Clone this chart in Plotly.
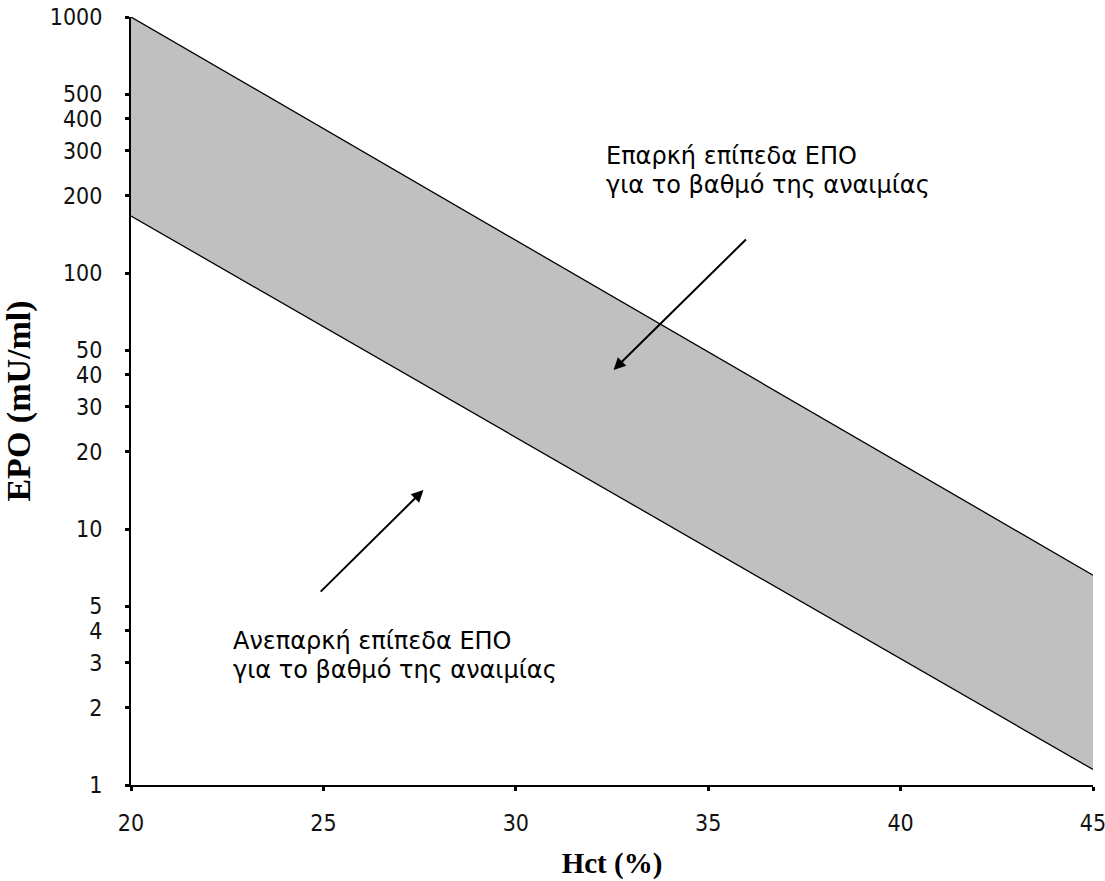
import numpy as np
import plotly.graph_objects as go

# Data
hct = [20, 45]
epo_upper = [1000, 6.6]
epo_lower = [167, 1.15]
x_ticks = [20, 25, 30, 35, 40, 45]
y_ticks = [1, 2, 3, 4, 5, 10, 20, 30, 40, 50, 100, 200, 300, 400, 500, 1000]

adequate_lines = ["Επαρκή επίπεδα ΕΠΟ", "για το βαθμό της αναιμίας"]
inadequate_lines = ["Ανεπαρκή επίπεδα ΕΠΟ", "για το βαθμό της αναιμίας"]
# annotation anchor points (data units)
adequate_text_pos = (32.3, 330)
adequate_arrow_tail = (36.02, 137)
adequate_arrow_head = (32.54, 41.8)
inadequate_text_pos = (22.6, 4.2)
inadequate_arrow_tail = (24.89, 5.62)
inadequate_arrow_head = (27.6, 14.2)

fig = go.Figure()
fig.add_trace(go.Scatter(x=hct, y=epo_lower, mode="lines",
                         line=dict(color="black", width=1.3), showlegend=False))
fig.add_trace(go.Scatter(x=hct, y=epo_upper, mode="lines", fill="tonexty",
                         fillcolor="#C0C0C0",
                         line=dict(color="black", width=1.3), showlegend=False))

L = np.log10
text_font = dict(family="DejaVu Sans", size=24, color="black")
for pos, lines in [(adequate_text_pos, adequate_lines), (inadequate_text_pos, inadequate_lines)]:
    for i, line in enumerate(lines):
        fig.add_annotation(x=pos[0], y=L(pos[1]), text=line, showarrow=False,
                           xanchor="left", yanchor="top", align="left",
                           yshift=-29 * i, font=text_font)
for tail, head in [(adequate_arrow_tail, adequate_arrow_head),
                   (inadequate_arrow_tail, inadequate_arrow_head)]:
    fig.add_annotation(x=head[0], y=L(head[1]), ax=tail[0], ay=L(tail[1]),
                       xref="x", yref="y", axref="x", ayref="y", text="",
                       showarrow=True, arrowhead=2, arrowsize=1.2, arrowwidth=2,
                       arrowcolor="black")

tick_font = dict(family="Liberation Sans Narrow, DejaVu Sans Condensed, Arial Narrow",
                 size=23, color="#111111")
serif = "Liberation Serif, Times New Roman"
fig.update_xaxes(range=[20, 45], tickvals=x_ticks, ticktext=[str(v) for v in x_ticks],
                 showline=True, linecolor="black", linewidth=2, ticks="outside",
                 ticklen=4, tickwidth=3, tickcolor="black", showgrid=False, zeroline=False,
                 tickfont=tick_font, ticklabelstandoff=12, automargin=False,
                 ticklabeloverflow="allow",
                 title=dict(text="<b>Hct (%)</b>", font=dict(family=serif, size=29, color="black"),
                            standoff=18))
fig.update_yaxes(type="log", range=[0, 3], tickvals=y_ticks, ticktext=[str(v) for v in y_ticks],
                 showline=True, linecolor="black", linewidth=2, ticks="outside",
                 ticklen=4, tickwidth=3, tickcolor="black", showgrid=False, zeroline=False,
                 tickfont=tick_font, ticklabelstandoff=18, automargin=False,
                 ticklabeloverflow="allow",
                 title=dict(text="<b>EPO (mU/ml)</b>", font=dict(family=serif, size=34, color="black"),
                            standoff=10))
fig.update_layout(width=1105, height=881, plot_bgcolor="white", paper_bgcolor="white",
                  margin=dict(l=131, r=12, t=17, b=96), showlegend=False)
fig.write_html("out.html", config={"displayModeBar": False},
               post_script="document.body.style.margin='0';")
